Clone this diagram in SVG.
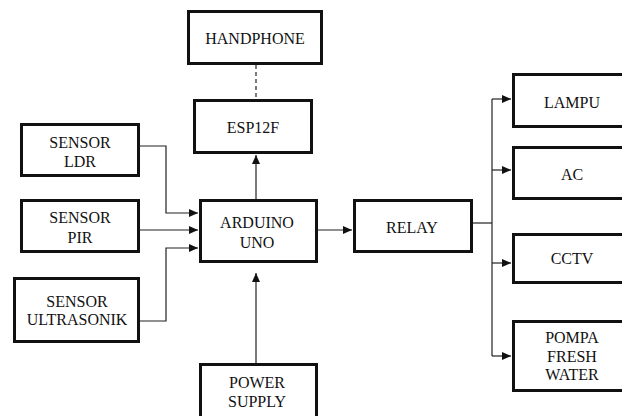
<svg xmlns="http://www.w3.org/2000/svg" width="622" height="416" viewBox="0 0 622 416">
<defs>
<marker id="ah" markerUnits="userSpaceOnUse" markerWidth="9" markerHeight="8" refX="9" refY="4" orient="auto">
<path d="M0,0 L9,4 L0,8 z" fill="#111"/>
</marker>
</defs>
<rect width="622" height="416" fill="#fff"/>
<g id="connectors" fill="none" stroke="#222" stroke-width="1.2">
<line x1="256" y1="65" x2="256" y2="99" stroke-dasharray="4,3"/>
<line x1="256" y1="199" x2="256" y2="155" marker-end="url(#ah)"/>
<polyline points="140,146 166,146 166,213 198,213" marker-end="url(#ah)"/>
<line x1="140" y1="230" x2="198" y2="230" marker-end="url(#ah)"/>
<polyline points="140,321 166,321 166,248 198,248" marker-end="url(#ah)"/>
<line x1="256" y1="363" x2="256" y2="273" marker-end="url(#ah)"/>
<line x1="318" y1="230" x2="352" y2="230" marker-end="url(#ah)"/>
<line x1="473" y1="223" x2="492" y2="223"/>
<line x1="492" y1="99" x2="492" y2="356"/>
<line x1="492" y1="99" x2="511" y2="99" marker-end="url(#ah)"/>
<line x1="492" y1="170" x2="511" y2="170" marker-end="url(#ah)"/>
<line x1="492" y1="263" x2="511" y2="263" marker-end="url(#ah)"/>
<line x1="492" y1="356" x2="511" y2="356" marker-end="url(#ah)"/>
</g>
<g id="nodes">
<g id="handphone"><rect x="188.5" y="11.5" width="133" height="52" fill="#fff" stroke="#111" stroke-width="3"/><text x="255" y="43.5" font-family="Liberation Serif" font-size="16" fill="#111" text-anchor="middle">HANDPHONE</text></g>
<g id="esp12f"><rect x="194.5" y="100.5" width="117" height="52" fill="#fff" stroke="#111" stroke-width="3"/><text x="253" y="132.5" font-family="Liberation Serif" font-size="16" fill="#111" text-anchor="middle">ESP12F</text></g>
<g id="sensor-ldr"><rect x="21.5" y="124.5" width="117" height="51" fill="#fff" stroke="#111" stroke-width="3"/><text x="80" y="147.5" font-family="Liberation Serif" font-size="16" fill="#111" text-anchor="middle">SENSOR</text><text x="80" y="166.5" font-family="Liberation Serif" font-size="16" fill="#111" text-anchor="middle">LDR</text></g>
<g id="sensor-pir"><rect x="21.5" y="200.5" width="117" height="51" fill="#fff" stroke="#111" stroke-width="3"/><text x="80" y="222.5" font-family="Liberation Serif" font-size="16" fill="#111" text-anchor="middle">SENSOR</text><text x="80" y="242.5" font-family="Liberation Serif" font-size="16" fill="#111" text-anchor="middle">PIR</text></g>
<g id="sensor-ultrasonik"><rect x="14.5" y="278.5" width="124" height="63" fill="#fff" stroke="#111" stroke-width="3"/><text x="77" y="306.5" font-family="Liberation Serif" font-size="16" fill="#111" text-anchor="middle">SENSOR</text><text x="77" y="324.5" font-family="Liberation Serif" font-size="16" fill="#111" text-anchor="middle">ULTRASONIK</text></g>
<g id="arduino"><rect x="200.5" y="200.5" width="116" height="61" fill="#fff" stroke="#111" stroke-width="3"/><text x="257" y="227.5" font-family="Liberation Serif" font-size="16" fill="#111" text-anchor="middle">ARDUINO</text><text x="257" y="247.5" font-family="Liberation Serif" font-size="16" fill="#111" text-anchor="middle">UNO</text></g>
<g id="power-supply"><rect x="200.5" y="364.5" width="116" height="60" fill="#fff" stroke="#111" stroke-width="3"/><text x="257" y="387.5" font-family="Liberation Serif" font-size="16" fill="#111" text-anchor="middle">POWER</text><text x="257" y="406.5" font-family="Liberation Serif" font-size="16" fill="#111" text-anchor="middle">SUPPLY</text></g>
<g id="relay"><rect x="354.5" y="200.5" width="117" height="51" fill="#fff" stroke="#111" stroke-width="3"/><text x="412" y="232.5" font-family="Liberation Serif" font-size="16" fill="#111" text-anchor="middle">RELAY</text></g>
<g id="lampu"><rect x="513.5" y="74.5" width="130" height="52" fill="#fff" stroke="#111" stroke-width="3"/><text x="572" y="107.5" font-family="Liberation Serif" font-size="16" fill="#111" text-anchor="middle">LAMPU</text></g>
<g id="ac"><rect x="513.5" y="147.5" width="130" height="51" fill="#fff" stroke="#111" stroke-width="3"/><text x="572" y="179.5" font-family="Liberation Serif" font-size="16" fill="#111" text-anchor="middle">AC</text></g>
<g id="cctv"><rect x="513.5" y="234.5" width="130" height="48" fill="#fff" stroke="#111" stroke-width="3"/><text x="572" y="263.5" font-family="Liberation Serif" font-size="16" fill="#111" text-anchor="middle">CCTV</text></g>
<g id="pompa"><rect x="513.5" y="321.5" width="130" height="69" fill="#fff" stroke="#111" stroke-width="3"/><text x="572" y="342.5" font-family="Liberation Serif" font-size="16" fill="#111" text-anchor="middle">POMPA</text><text x="572" y="361.5" font-family="Liberation Serif" font-size="16" fill="#111" text-anchor="middle">FRESH</text><text x="572" y="379.5" font-family="Liberation Serif" font-size="16" fill="#111" text-anchor="middle">WATER</text></g>
</g>
</svg>
